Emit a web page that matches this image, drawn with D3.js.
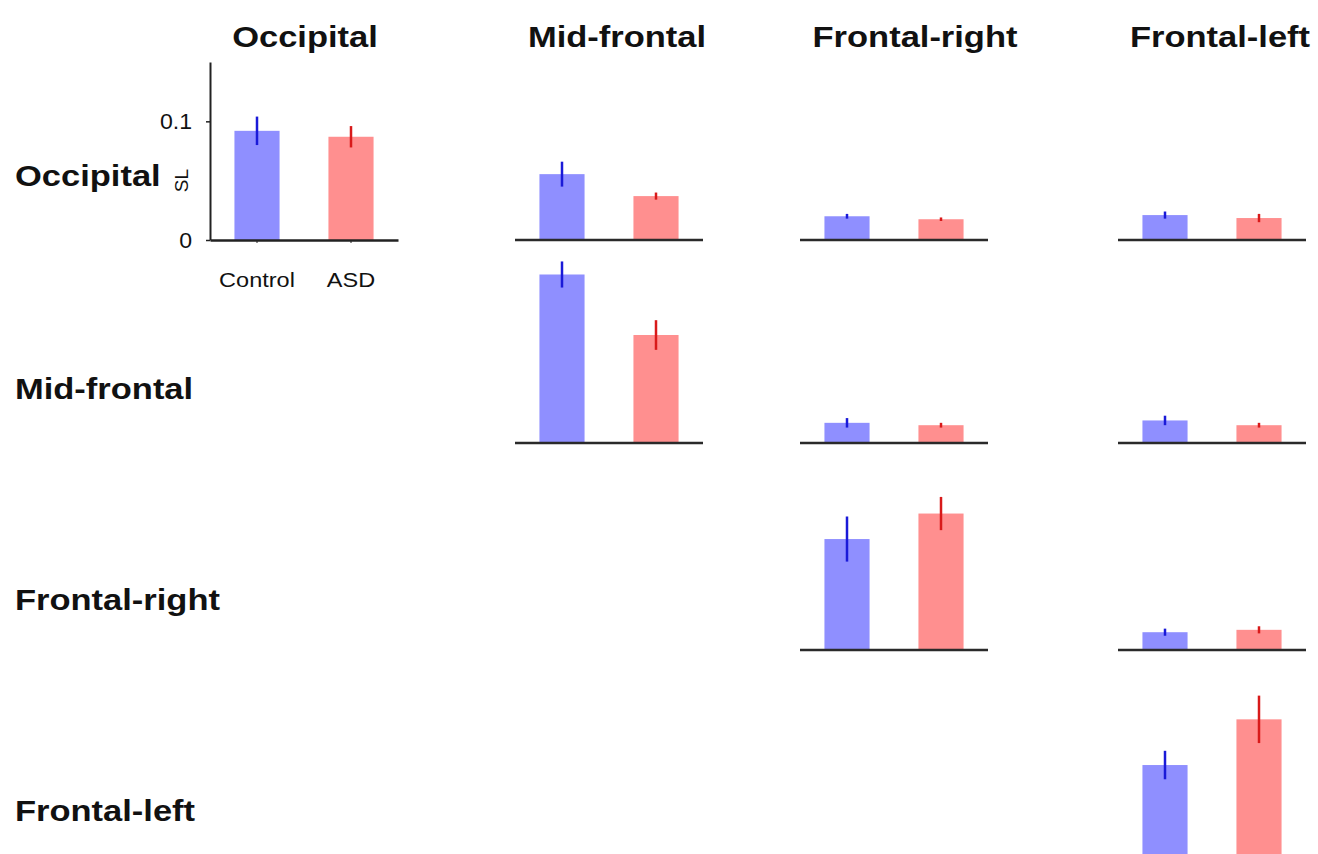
<!DOCTYPE html>
<html><head><meta charset="utf-8">
<script src="https://cdn.jsdelivr.net/npm/d3@7"></script>
<style>body{margin:0;background:#fff}svg{display:block}text{font-family:"Liberation Sans",Arial,sans-serif;fill:#111}</style>
</head><body>
<svg id="c" width="1318" height="854"></svg>
<script>
const regions = ["Occipital","Mid-frontal","Frontal-right","Frontal-left"];
const groups = ["Control","ASD"];
const yTicks = [0, 0.1];
const yLabel = "SL";
// upper-triangular matrices (row = region, col = region)
const controlMean = [
  [0.092, 0.0555, 0.020, 0.021],
  [null, 0.142, 0.017, 0.019],
  [null, null, 0.0935, 0.015],
  [null, null, null, 0.0775]
];
const controlErr = [
  [0.012, 0.0105, 0.002, 0.003],
  [null, 0.011, 0.004, 0.004],
  [null, null, 0.019, 0.003],
  [null, null, null, 0.012]
];
const asdMean = [
  [0.087, 0.037, 0.0175, 0.0185],
  [null, 0.091, 0.015, 0.015],
  [null, null, 0.115, 0.017],
  [null, null, null, 0.116]
];
const asdErr = [
  [0.009, 0.003, 0.0015, 0.0035],
  [null, 0.0125, 0.002, 0.002],
  [null, null, 0.014, 0.003],
  [null, null, null, 0.02]
];

const svg = d3.select("#c");
const colX = [210, 515, 800, 1118];
const rowBase = [240, 443, 650, 857];
const panelW = 188, panelH = 178;
const titleX = [305, 617, 915, 1220];
const rowLabelY = [186, 399, 610, 821];
const barColor = {Control: "#8f8fff", ASD: "#ff8f8f"};
const errColor = {Control: "#1a1ad8", ASD: "#d81a1a"};

const x = d3.scaleBand().domain(groups).range([0, panelW]).paddingInner(0.52).paddingOuter(0.26);
const y = d3.scaleLinear().domain([0, 0.15]).range([panelH, 0]);

function stretchedText(sel, tx, ty, str, size, weight, anchor, sx) {
  const g = sel.append("g").attr("transform", `translate(${tx},${ty}) scale(${sx},1)`);
  g.append("text").attr("text-anchor", anchor || "middle")
    .style("font-size", size + "px").style("font-weight", weight || "normal").text(str);
  return g;
}

// column titles
regions.forEach((r, j) => stretchedText(svg, titleX[j], 47, r, 30, "bold", "middle", 1.15));
// row labels
regions.forEach((r, i) => stretchedText(svg, 15, rowLabelY[i], r, 30, "bold", "start", 1.15));

for (let i = 0; i < regions.length; i++) {
  for (let j = i; j < regions.length; j++) {
    const g = svg.append("g").attr("transform", `translate(${colX[j]},${rowBase[i] - panelH})`);
    const data = [
      {grp: "Control", m: controlMean[i][j], e: controlErr[i][j]},
      {grp: "ASD", m: asdMean[i][j], e: asdErr[i][j]}
    ];
    g.selectAll("rect.bar").data(data).join("rect").attr("class", "bar")
      .attr("x", d => x(d.grp)).attr("width", x.bandwidth())
      .attr("y", d => y(d.m)).attr("height", d => y(0) - y(d.m))
      .attr("fill", d => barColor[d.grp]);
    g.selectAll("line.err").data(data).join("line").attr("class", "err")
      .attr("x1", d => x(d.grp) + x.bandwidth() / 2).attr("x2", d => x(d.grp) + x.bandwidth() / 2)
      .attr("y1", d => y(d.m + d.e)).attr("y2", d => y(d.m - d.e))
      .attr("stroke", d => errColor[d.grp]).attr("stroke-width", 2.5);

    if (i === 0 && j === 0) {
      const ya = g.append("g").call(d3.axisLeft(y).tickValues(yTicks)
        .tickFormat(d => d === 0 ? "0" : d3.format(".1f")(d)).tickSize(4).tickSizeOuter(0).tickPadding(12));
      ya.select(".domain").attr("stroke", "#222").attr("stroke-width", 2);
      ya.selectAll(".tick line").attr("stroke", "#222").attr("stroke-width", 1.5);
      ya.selectAll(".tick text").remove();
      yTicks.forEach(t => stretchedText(g, -18, y(t) + 8, t === 0 ? "0" : d3.format(".1f")(t), 22, "normal", "end", 1.05));
      const xa = g.append("g").attr("transform", `translate(0,${panelH})`)
        .call(d3.axisBottom(x).tickSize(3).tickSizeOuter(0));
      xa.select(".domain").attr("stroke", "#222").attr("stroke-width", 2.5);
      xa.selectAll(".tick line").attr("stroke", "#222");
      xa.selectAll(".tick text").remove();
      groups.forEach(gr => stretchedText(g, x(gr) + x.bandwidth() / 2, panelH + 47, gr, 21, "normal", "middle", 1.12));
      g.append("text").attr("transform", `translate(${-29},${y(0.05)}) rotate(-90)`)
        .attr("text-anchor", "middle").attr("dy", "0.35em").style("font-size", "19px").text(yLabel);
    } else {
      g.append("line").attr("x1", 0).attr("x2", panelW).attr("y1", y(0)).attr("y2", y(0))
        .attr("stroke", "#2a2a2a").attr("stroke-width", 2.5);
    }
  }
}
</script>
</body></html>
